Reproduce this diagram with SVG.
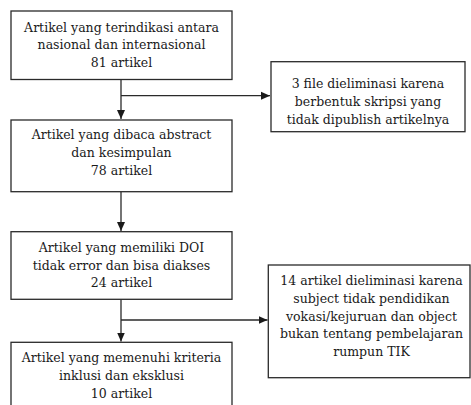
<svg xmlns="http://www.w3.org/2000/svg" width="471" height="405" viewBox="0 0 471 405">
<defs>
<style>
.box{fill:#fff;stroke:#2a2a2a;stroke-width:1.3}
.t{font-family:"DejaVu Serif","Liberation Serif",serif;font-size:12.5px;fill:#1a1a1a;text-anchor:middle}
.c{fill:none;stroke:#2a2a2a;stroke-width:1.3}
</style>
<marker id="ah" markerWidth="10" markerHeight="10" refX="9" refY="5" orient="auto" markerUnits="userSpaceOnUse">
<path d="M0,1 L9,5 L0,9 Z" fill="#1a1a1a"/>
</marker>
</defs>
<rect width="471" height="405" fill="#fff"/>
<g id="connectors">
<path class="c" d="M121,79.5 V119" marker-end="url(#ah)"/>
<path class="c" d="M121,95.7 H270" marker-end="url(#ah)"/>
<path class="c" d="M121,191.7 V231" marker-end="url(#ah)"/>
<path class="c" d="M121,299.3 V341.5" marker-end="url(#ah)"/>
<path class="c" d="M121,320 H267.5" marker-end="url(#ah)"/>
</g>
<g id="n1">
<rect class="box" x="11" y="11" width="221" height="68.5"/>
<text class="t" x="121.5" y="31.5">Artikel yang terindikasi antara</text>
<text class="t" x="121.5" y="49">nasional dan internasional</text>
<text class="t" x="121.5" y="66.5">81 artikel</text>
</g>
<g id="n2">
<rect class="box" x="271" y="61.7" width="194" height="70"/>
<text class="t" x="368" y="88.3">3 file dieliminasi karena</text>
<text class="t" x="368" y="106.3">berbentuk skripsi yang</text>
<text class="t" x="368" y="124">tidak dipublish artikelnya</text>
</g>
<g id="n3">
<rect class="box" x="11" y="120" width="221" height="71.7"/>
<text class="t" x="121.5" y="138.5">Artikel yang dibaca abstract</text>
<text class="t" x="121.5" y="156.5">dan kesimpulan</text>
<text class="t" x="121.5" y="174.5">78 artikel</text>
</g>
<g id="n4">
<rect class="box" x="11" y="231.7" width="221" height="67.6"/>
<text class="t" x="121.5" y="251.7">Artikel yang memiliki DOI</text>
<text class="t" x="121.5" y="269.5">tidak error dan bisa diakses</text>
<text class="t" x="121.5" y="287">24 artikel</text>
</g>
<g id="n5">
<rect class="box" x="268.3" y="265" width="201.7" height="112.7"/>
<text class="t" x="371.5" y="285">14 artikel dieliminasi karena</text>
<text class="t" x="371.5" y="303">subject tidak pendidikan</text>
<text class="t" x="371.5" y="320.5">vokasi/kejuruan dan object</text>
<text class="t" x="371.5" y="338">bukan tentang pembelajaran</text>
<text class="t" x="371.5" y="355.5">rumpun TIK</text>
</g>
<g id="n6">
<rect class="box" x="11" y="342.3" width="221" height="72"/>
<text class="t" x="121.5" y="361.7">Artikel yang memenuhi kriteria</text>
<text class="t" x="121.5" y="379.7">inklusi dan eksklusi</text>
<text class="t" x="121.5" y="397.7">10 artikel</text>
</g>
</svg>
